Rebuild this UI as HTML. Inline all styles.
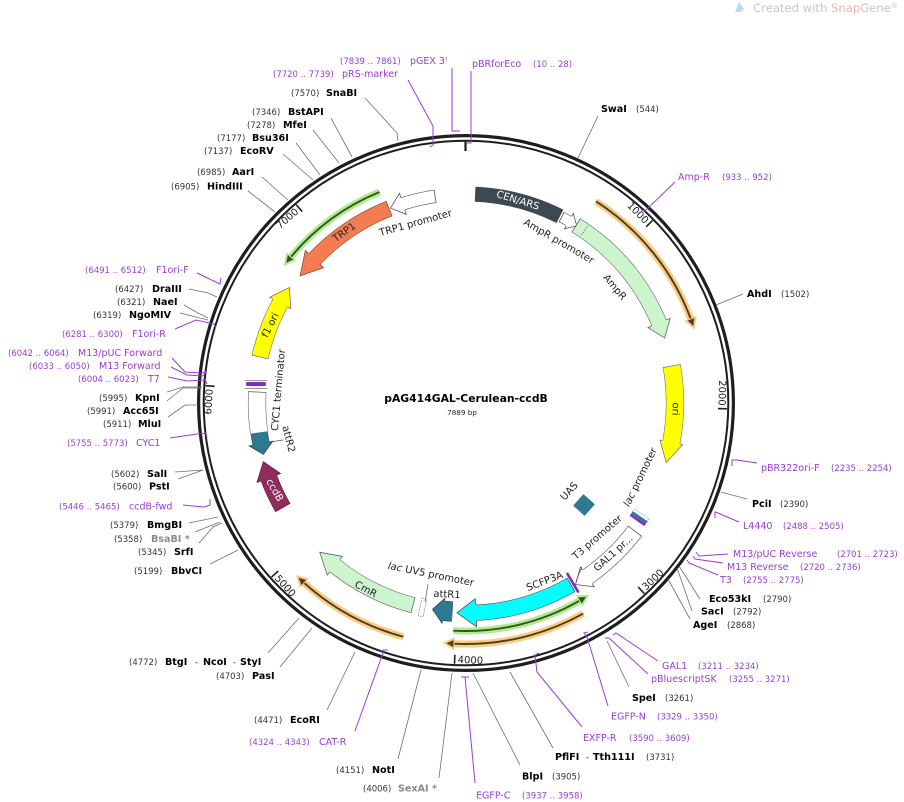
<!DOCTYPE html>
<html><head><meta charset="utf-8"><style>
html,body{margin:0;padding:0;background:#fff}
svg{display:block}
text{font-family:"DejaVu Sans","Liberation Sans",sans-serif}
.n{font-size:8.5px;fill:#333}
.e{font-size:9.6px;font-weight:bold;fill:#000}
.g{font-size:9.6px;font-weight:bold;fill:#8a8a8a}
.p{font-size:9.5px;fill:#9a3cd0}
.pn{font-size:8.5px;fill:#9a3cd0}
.t{font-size:10px;fill:#222}
.f text{font-size:10px;fill:#222;text-anchor:middle}
</style></head><body>
<svg width="904" height="802" viewBox="0 0 904 802" xmlns="http://www.w3.org/2000/svg">
<rect width="904" height="802" fill="#fff"/>

<!-- watermark -->
<path d="M735,12 L739,2 L744,9 L741,12 Z" fill="#b5def0"/>
<text x="753" y="12" font-size="11.5" fill="#c6c6c6" textLength="145" lengthAdjust="spacingAndGlyphs">Created with <tspan fill="#f2b3b3">Snap</tspan>Gene<tspan font-size="7" dy="-4">®</tspan></text>

<!-- ring -->
<circle cx="466" cy="403" r="267.4" fill="none" stroke="#1e1e1e" stroke-width="3.2"/>
<circle cx="466" cy="403" r="262.3" fill="none" stroke="#1e1e1e" stroke-width="2"/>
<line x1="465.5" y1="140" x2="465.5" y2="151" stroke="#1e1e1e" stroke-width="2.2"/>

<!-- ticks -->
<g stroke="#1e1e1e" stroke-width="1.6">
<g transform="translate(466 403) rotate(45.63)"><line x1="0" y1="-261" x2="0" y2="-252"/></g>
<g transform="translate(466 403) rotate(91.27)"><line x1="0" y1="-261" x2="0" y2="-252"/></g>
<g transform="translate(466 403) rotate(136.9)"><line x1="0" y1="-261" x2="0" y2="-252"/></g>
<g transform="translate(466 403) rotate(182.53)"><line x1="0" y1="-261" x2="0" y2="-252"/></g>
<g transform="translate(466 403) rotate(228.17)"><line x1="0" y1="-261" x2="0" y2="-252"/></g>
<g transform="translate(466 403) rotate(273.8)"><line x1="0" y1="-261" x2="0" y2="-252"/></g>
<g transform="translate(466 403) rotate(319.43)"><line x1="0" y1="-261" x2="0" y2="-252"/></g>
</g>
<g class="t">
<text transform="translate(466 403) rotate(45.63)" x="-3" y="-252.5" text-anchor="end">1000</text>
<text transform="translate(466 403) rotate(91.27)" x="-3" y="-252.5" text-anchor="end">2000</text>
<text transform="translate(466 403) rotate(-43.1)" x="3" y="260" text-anchor="start">3000</text>
<text transform="translate(466 403) rotate(2.53)" x="3" y="260" text-anchor="start">4000</text>
<text transform="translate(466 403) rotate(48.17)" x="3" y="260" text-anchor="start">5000</text>
<text transform="translate(466 403) rotate(273.8)" x="-3" y="-253.5" text-anchor="end">6000</text>
<text transform="translate(466 403) rotate(319.43)" x="-3" y="-253" text-anchor="end">7000</text>
</g>

<!-- ORF lines -->
<g fill="none">
<circle cx="466" cy="403" r="240" stroke="#f9cc82" stroke-width="7" stroke-dasharray="154.15 3000" transform="rotate(-57.2 466 403)"/>
<circle cx="466" cy="403" r="240" stroke="#4e3d22" stroke-width="1.9" stroke-dasharray="154.15 3000" transform="rotate(-57.2 466 403)"/>
<circle cx="466" cy="403" r="228" stroke="#b2e993" stroke-width="7" stroke-dasharray="132.11 3000" transform="rotate(60 466 403)"/>
<circle cx="466" cy="403" r="228" stroke="#2b5a1c" stroke-width="1.9" stroke-dasharray="132.11 3000" transform="rotate(60 466 403)"/>
<circle cx="466" cy="403" r="241" stroke="#f9cc82" stroke-width="7" stroke-dasharray="135.02 3000" transform="rotate(60.9 466 403)"/>
<circle cx="466" cy="403" r="241" stroke="#4e3d22" stroke-width="1.9" stroke-dasharray="135.02 3000" transform="rotate(60.9 466 403)"/>
<circle cx="466" cy="403" r="242" stroke="#f9cc82" stroke-width="7" stroke-dasharray="114.46 3000" transform="rotate(105 466 403)"/>
<circle cx="466" cy="403" r="242" stroke="#4e3d22" stroke-width="1.9" stroke-dasharray="114.46 3000" transform="rotate(105 466 403)"/>
<circle cx="466" cy="403" r="228" stroke="#b2e993" stroke-width="7" stroke-dasharray="111.42 3000" transform="rotate(219.7 466 403)"/>
<circle cx="466" cy="403" r="228" stroke="#2b5a1c" stroke-width="1.9" stroke-dasharray="111.42 3000" transform="rotate(219.7 466 403)"/>
</g>
<g transform="translate(466 403) rotate(69.6)"><polygon points="-1,-246.5 11,-239.7 -1,-233.5" fill="#f9cc82"/><polygon points="0,-243.5 7,-239.9 0,-236.5" fill="#4e3d22"/></g>
<g transform="translate(466 403) rotate(150)"><polygon points="1,-234.5 -11,-227.7 1,-221.5" fill="#b2e993"/><polygon points="0,-231.5 -7,-227.9 0,-224.5" fill="#2b5a1c"/></g>
<g transform="translate(466 403) rotate(183)"><polygon points="-1,-247.5 11,-240.7 -1,-234.5" fill="#f9cc82"/><polygon points="0,-244.5 7,-240.9 0,-237.5" fill="#4e3d22"/></g>
<g transform="translate(466 403) rotate(222.1)"><polygon points="-1,-248.5 11,-241.7 -1,-235.5" fill="#f9cc82"/><polygon points="0,-245.5 7,-241.9 0,-238.5" fill="#4e3d22"/></g>
<g transform="translate(466 403) rotate(309.7)"><polygon points="1,-234.5 -11,-227.7 1,-221.5" fill="#b2e993"/><polygon points="0,-231.5 -7,-227.9 0,-224.5" fill="#2b5a1c"/></g>

<!-- CEN/ARS -->
<circle cx="466" cy="403" r="209" fill="none" stroke="#3d4853" stroke-width="15" stroke-dasharray="88.3 3000" transform="rotate(-87.5 466 403)"/>

<!-- AmpR promoter -->
<circle cx="466" cy="403" r="209" fill="none" stroke="#555" stroke-width="11.2" stroke-dasharray="8.4 3000" transform="rotate(-62.8 466 403)"/>
<g transform="translate(466 403) rotate(29.5)"><polygon points="0,-218 9,-208.8 0,-200" fill="#fff"/><path d="M0,-214.6 V-218 L9,-208.8 L0,-200 V-203.4" fill="none" stroke="#555" stroke-width="0.8"/></g>
<circle cx="466" cy="403" r="209" fill="none" stroke="#fff" stroke-width="10" stroke-dasharray="9.4 3000" transform="rotate(-62.8 466 403)"/>
<g transform="translate(466 403) rotate(27.2)"><line x1="0" y1="-214.6" x2="0" y2="-203.4" stroke="#555" stroke-width="0.8"/></g>

<!-- AmpR -->
<circle cx="466" cy="403" r="209" fill="none" stroke="#666" stroke-width="16.2" stroke-dasharray="130.2 3000" transform="rotate(-58.2 466 403)"/>
<g transform="translate(466 403) rotate(67.5)"><polygon points="0,-221 16,-208.4 0,-197" fill="#cdf5cd"/><path d="M0,-217.1 V-221 L16,-208.4 L0,-197 V-200.9" fill="none" stroke="#666" stroke-width="0.8"/></g>
<circle cx="466" cy="403" r="209" fill="none" stroke="#cdf5cd" stroke-width="15" stroke-dasharray="131.2 3000" transform="rotate(-58.2 466 403)"/>
<g transform="translate(466 403) rotate(31.8)"><line x1="0" y1="-217.1" x2="0" y2="-200.9" stroke="#666" stroke-width="0.8"/></g>
<g transform="translate(466 403) rotate(34.5)"><line x1="0" y1="-215" x2="0" y2="-203" stroke="#333" stroke-width="0.8" stroke-dasharray="1 1.5"/></g>

<!-- ori -->
<circle cx="466" cy="403" r="209" fill="none" stroke="#777" stroke-width="18.2" stroke-dasharray="76.75 3000" transform="rotate(-10.2 466 403)"/>
<g transform="translate(466 403) rotate(100.84)"><polygon points="0,-220.5 21,-207.9 0,-197.5" fill="#ffff00"/><path d="M0,-218.1 V-220.5 L21,-207.9 L0,-197.5 V-199.9" fill="none" stroke="#777" stroke-width="0.8"/></g>
<circle cx="466" cy="403" r="209" fill="none" stroke="#ffff00" stroke-width="17" stroke-dasharray="77.75 3000" transform="rotate(-10.2 466 403)"/>
<g transform="translate(466 403) rotate(79.8)"><line x1="0" y1="-218.1" x2="0" y2="-199.9" stroke="#777" stroke-width="0.8"/></g>

<!-- lac promoter stack -->
<g transform="translate(639 518) rotate(35)">
<rect x="-9" y="-5" width="18" height="3" fill="#fff" stroke="#666" stroke-width="0.6" stroke-dasharray="1 1"/>
<rect x="-9" y="-2" width="18" height="3" fill="#2e7890"/>
<rect x="-9" y="1" width="18" height="2.6" fill="#7f2dc4"/>
</g>

<!-- UAS -->
<rect x="-7.7" y="-7.7" width="15.4" height="15.4" fill="#2e7890" transform="translate(584 505) rotate(42)"/>

<!-- T3 / GAL1 promoter -->
<circle cx="466" cy="403" r="212" fill="none" stroke="#555" stroke-width="17.2" stroke-dasharray="66.2 3000" transform="rotate(37.2 466 403)"/>
<g transform="translate(466 403) rotate(145.1)"><polygon points="0,-224 14,-211.5 0,-200" fill="#fff"/><path d="M0,-220.6 V-224 L14,-211.5 L0,-200 V-203.4" fill="none" stroke="#555" stroke-width="0.8"/></g>
<circle cx="466" cy="403" r="212" fill="none" stroke="#fff" stroke-width="16" stroke-dasharray="67.2 3000" transform="rotate(37.2 466 403)"/>
<g transform="translate(466 403) rotate(127.2)"><line x1="0" y1="-220.6" x2="0" y2="-203.4" stroke="#555" stroke-width="0.8"/></g>

<!-- SCFP3A -->
<circle cx="466" cy="403" r="210" fill="none" stroke="#555" stroke-width="16.2" stroke-dasharray="100.06 3000" transform="rotate(60 466 403)"/>
<g transform="translate(466 403) rotate(177.3)"><polygon points="0,-224 19,-209.1 0,-196" fill="#00ffff"/><path d="M0,-218.1 V-224 L19,-209.1 L0,-196 V-201.9" fill="none" stroke="#555" stroke-width="0.8"/></g>
<circle cx="466" cy="403" r="210" fill="none" stroke="#00ffff" stroke-width="15" stroke-dasharray="101.1 3000" transform="rotate(60 466 403)"/>
<g transform="translate(466 403) rotate(150)"><line x1="0" y1="-218.1" x2="0" y2="-201.9" stroke="#555" stroke-width="0.8"/></g>
<g transform="translate(466 403) rotate(149.3)"><rect x="-1.3" y="-220.5" width="2.6" height="23" rx="1" fill="#7f2dc4"/></g>

<!-- attR1 -->
<circle cx="466" cy="403" r="209" fill="none" stroke="#234f5e" stroke-width="20.2" stroke-dasharray="9.1 3000" transform="rotate(93.7 466 403)"/>
<g transform="translate(466 403) rotate(186.2)"><polygon points="0,-221.5 11,-208.7 0,-196.5" fill="#2e7890"/><path d="M0,-219.1 V-221.5 L11,-208.7 L0,-196.5 V-198.9" fill="none" stroke="#234f5e" stroke-width="0.8"/></g>
<circle cx="466" cy="403" r="209" fill="none" stroke="#2e7890" stroke-width="19" stroke-dasharray="10.1 3000" transform="rotate(93.7 466 403)"/>

<!-- lac UV5 promoter -->
<g transform="translate(466 403) rotate(192)"><rect x="-2.5" y="-218" width="5" height="18" fill="#fff" stroke="#555" stroke-width="0.6" stroke-dasharray="1.2 1"/></g>

<!-- CmR -->
<circle cx="466" cy="403" r="209" fill="none" stroke="#666" stroke-width="16.2" stroke-dasharray="88.27 3000" transform="rotate(104.7 466 403)"/>
<g transform="translate(466 403) rotate(218.9)"><polygon points="0,-221 20,-208 0,-197" fill="#cdf5cd"/><path d="M0,-217.1 V-221 L20,-208 L0,-197 V-200.9" fill="none" stroke="#666" stroke-width="0.8"/></g>
<circle cx="466" cy="403" r="209" fill="none" stroke="#cdf5cd" stroke-width="15" stroke-dasharray="89.3 3000" transform="rotate(104.7 466 403)"/>
<g transform="translate(466 403) rotate(194.7)"><line x1="0" y1="-217.1" x2="0" y2="-200.9" stroke="#666" stroke-width="0.8"/></g>

<!-- ccdB -->
<circle cx="466" cy="403" r="211" fill="none" stroke="#5e1a3b" stroke-width="17.2" stroke-dasharray="32.78 3000" transform="rotate(150.3 466 403)"/>
<g transform="translate(466 403) rotate(249.2)"><polygon points="0,-223.5 17,-210.3 0,-198.5" fill="#8f2d5d"/><path d="M0,-219.6 V-223.5 L17,-210.3 L0,-198.5 V-202.4" fill="none" stroke="#5e1a3b" stroke-width="0.8"/></g>
<circle cx="466" cy="403" r="211" fill="none" stroke="#8f2d5d" stroke-width="16" stroke-dasharray="33.8 3000" transform="rotate(150.3 466 403)"/>
<g transform="translate(466 403) rotate(240.3)"><line x1="0" y1="-219.6" x2="0" y2="-202.4" stroke="#5e1a3b" stroke-width="0.8"/></g>

<!-- attR2 -->
<circle cx="466" cy="403" r="209" fill="none" stroke="#234f5e" stroke-width="17.2" stroke-dasharray="11.31 3000" transform="rotate(168.8 466 403)"/>
<g transform="translate(466 403) rotate(258.8)"><polygon points="0,-221 -11,-208.7 0,-197" fill="#2e7890"/><path d="M0,-217.6 V-221 L-11,-208.7 L0,-197 V-200.4" fill="none" stroke="#234f5e" stroke-width="0.8"/></g>
<circle cx="466" cy="403" r="209" fill="none" stroke="#2e7890" stroke-width="16" stroke-dasharray="12.3 3000" transform="rotate(168.53 466 403)"/>

<!-- CYC1 terminator -->
<circle cx="466" cy="403" r="209" fill="none" stroke="#666" stroke-width="18.2" stroke-dasharray="40.5 3000" transform="rotate(171.9 466 403)"/>
<circle cx="466" cy="403" r="209" fill="none" stroke="#fff" stroke-width="17" stroke-dasharray="40.5 3000" transform="rotate(171.9 466 403)"/>
<g transform="translate(466 403) rotate(273)"><line x1="0" y1="-218.1" x2="0" y2="-199.9" stroke="#666" stroke-width="0.8"/></g>
<line x1="245" y1="380.5" x2="267" y2="380.5" stroke="#777" stroke-width="0.8"/>
<rect x="246" y="382" width="20" height="4" rx="1.5" fill="#7f2dc4"/>
<line x1="245" y1="388.5" x2="267" y2="388.5" stroke="#777" stroke-width="0.8"/>

<!-- f1 ori -->
<circle cx="466" cy="403" r="211" fill="none" stroke="#777" stroke-width="17.2" stroke-dasharray="57.82 3000" transform="rotate(192.6 466 403)"/>
<g transform="translate(466 403) rotate(298.3)"><polygon points="0,-223 18,-210.2 0,-199" fill="#ffff00"/><path d="M0,-219.6 V-223 L18,-210.2 L0,-199 V-202.4" fill="none" stroke="#777" stroke-width="0.8"/></g>
<circle cx="466" cy="403" r="211" fill="none" stroke="#ffff00" stroke-width="16" stroke-dasharray="58.8 3000" transform="rotate(192.6 466 403)"/>
<g transform="translate(466 403) rotate(282.6)"><line x1="0" y1="-219.6" x2="0" y2="-202.4" stroke="#777" stroke-width="0.8"/></g>

<!-- TRP1 -->
<circle cx="466" cy="403" r="209" fill="none" stroke="#8b4a30" stroke-width="16.2" stroke-dasharray="90.83 3000" transform="rotate(223.5 466 403)"/>
<g transform="translate(466 403) rotate(313.5)"><polygon points="0,-221.5 -22,-207.8 0,-196.5" fill="#f47c50"/><path d="M0,-217.1 V-221.5 L-22,-207.8 L0,-196.5 V-200.9" fill="none" stroke="#8b4a30" stroke-width="0.8"/></g>
<circle cx="466" cy="403" r="209" fill="none" stroke="#f47c50" stroke-width="15" stroke-dasharray="91.83 3000" transform="rotate(223.23 466 403)"/>
<g transform="translate(466 403) rotate(338.4)"><line x1="0" y1="-217.1" x2="0" y2="-200.9" stroke="#8b4a30" stroke-width="0.8"/></g>

<!-- TRP1 promoter -->
<circle cx="466" cy="403" r="209" fill="none" stroke="#555" stroke-width="13.2" stroke-dasharray="33.19 3000" transform="rotate(252.4 466 403)"/>
<g transform="translate(466 403) rotate(342.4)"><polygon points="0,-220 -13,-208.6 0,-198" fill="#fff"/><path d="M0,-215.6 V-220 L-13,-208.6 L0,-198 V-202.4" fill="none" stroke="#555" stroke-width="0.8"/></g>
<circle cx="466" cy="403" r="209" fill="none" stroke="#fff" stroke-width="12" stroke-dasharray="34.2 3000" transform="rotate(252.13 466 403)"/>
<g transform="translate(466 403) rotate(351.5)"><line x1="0" y1="-215.6" x2="0" y2="-202.4" stroke="#555" stroke-width="0.8"/></g>

<!-- feature labels -->
<g class="f">
<text transform="translate(415.5 222.5) rotate(-15.6)" dy=".35em">TRP1 promoter</text>
<text transform="translate(344 232) rotate(-35.5)" dy=".35em">TRP1</text>
<text transform="translate(270 325) rotate(-63)" dy=".35em">f1 ori</text>
<text transform="translate(278 390) rotate(-85)" dy=".35em">CYC1 terminator</text>
<text transform="translate(289 439) rotate(76)" dy=".35em">attR2</text>
<text transform="translate(275 490) rotate(60)" dy=".35em" style="fill:#fff">ccdB</text>
<text transform="translate(366 589) rotate(28)" dy=".35em">CmR</text>
<text transform="translate(431 574) rotate(11.5)" dy=".35em"><tspan font-style="italic">lac</tspan> UV5 promoter</text>
<text transform="translate(447 594) rotate(3)" dy=".35em">attR1</text>
<text transform="translate(544.5 581) rotate(-21)" dy=".35em">SCFP3A</text>
<text transform="translate(597 537) rotate(-41)" dy=".35em">T3 promoter</text>
<text transform="translate(613 553) rotate(-42)" dy=".35em">GAL1 pr...</text>
<text transform="translate(569 491) rotate(-48)" dy=".35em">UAS</text>
<text transform="translate(640 477) rotate(-64)" dy=".35em"><tspan font-style="italic">lac</tspan> promoter</text>
<text transform="translate(676 409) rotate(92)" dy=".35em">ori</text>
<text transform="translate(615 287) rotate(50)" dy=".35em">AmpR</text>
<text transform="translate(559 241) rotate(30)" dy=".35em">AmpR promoter</text>
<text transform="translate(518 200) rotate(17)" dy=".35em" style="fill:#fff">CEN/ARS</text>
</g>
<path d="M582,567 L576,581 M428,584 L425,602 M283,440 L270,442" fill="none" stroke="#555" stroke-width="0.7"/>

<!-- enzyme connector lines -->
<path fill="none" stroke="#6e6e6e" stroke-width="0.8" d="
M365,98 L397,133 L398,141
M331,118 L352,157
M313,130 L339,163
M296,143 L320,175
M283,154 L313,180
M262,177 L288,200
M248,191 L275,212
M598,116 L578,158
M743,294 L716,305
M747,499 L721,492
M700,599 L679,566
M692,611 L677,568
M690,619 L668,579
M629,687 L607,641
M553,748 L510,672
M520,765 L473,673
M439,778 L452,673
M398,759 L421,670
M327,710 L355,652
M280,667 L312,628
M268,653 L299,618
M210,564 L238,550
M199,543 L213,527 L222,523
M195,532 L220,522
M189,523 L218,517
M175,472 L203,470
M178,479 L203,470
M168,417 L185,405 L198,405
M167,401 L183,388 L200,388
M167,392 L183,387 L202,387
M184,305 L198,313 L208,318
M180,313 L208,320
M189,289 L208,293 L217,297"/>

<!-- primer lines & markers -->
<path fill="none" stroke="#9a3cd6" stroke-width="1" d="
M452,68 V131 H460
M408,80 L433,126 L433,145 L430,147
M471,71 V143 H467
M675,182 L645,211 L641,210
M757,463 L737,460 L732,460 L732,466
M739,522 L718,513 L715,512 L715,518
M728,554 L699,556 L696,552
M723,563 L695,559 L693,556
M718,575 L689,563 L687,560
M658,661 L616,633 L613,635
M648,674 L609,638 L605,638
M608,706 L587,637 L584,633 L588,632
M582,727 L537,672 L535,655 L539,653
M475,783 L465,677 M461,677 H469
M355,731 L383,653 L383,650 L388,650
M183,505 L204,507 L210,505 L210,499
M170,438 L197,434 L206,433 L207,438
M168,377 L187,381 L205,380 L207,384
M171,367 L187,375 L203,376 L206,372
M172,358 L185,372 L203,373 L207,370
M175,329 L196,320 L214,324 L216,328
M197,273 L220,284 L221,278"/>

<!-- labels top-left -->
<text class="pn" x="340" y="64">(7839 .. 7861)</text><text class="p" x="410" y="64">pGEX 3'</text>
<text class="pn" x="273" y="77">(7720 .. 7739)</text><text class="p" x="342" y="77">pRS-marker</text>
<text class="n" x="291" y="96">(7570)</text><text class="e" x="326" y="96">SnaBI</text>
<text class="n" x="252" y="115">(7346)</text><text class="e" x="288" y="115">BstAPI</text>
<text class="n" x="247" y="128">(7278)</text><text class="e" x="283" y="128">MfeI</text>
<text class="n" x="217" y="141">(7177)</text><text class="e" x="252" y="141">Bsu36I</text>
<text class="n" x="204" y="154">(7137)</text><text class="e" x="240" y="154">EcoRV</text>
<text class="n" x="197" y="175">(6985)</text><text class="e" x="232" y="175">AarI</text>
<text class="n" x="171" y="189.5">(6905)</text><text class="e" x="207" y="189.5">HindIII</text>

<!-- labels right -->
<text class="p" x="472" y="67">pBRforEco</text><text class="pn" x="533" y="67">(10 .. 28)</text>
<text class="e" x="601" y="112">SwaI</text><text class="n" x="636" y="112">(544)</text>
<text class="p" x="678" y="180">Amp-R</text><text class="pn" x="722" y="180">(933 .. 952)</text>
<text class="e" x="747" y="297">AhdI</text><text class="n" x="781" y="297">(1502)</text>
<text class="p" x="761" y="471">pBR322ori-F</text><text class="pn" x="831" y="471">(2235 .. 2254)</text>
<text class="e" x="752" y="507">PciI</text><text class="n" x="780" y="507">(2390)</text>
<text class="p" x="743" y="529">L4440</text><text class="pn" x="783" y="529">(2488 .. 2505)</text>
<text class="p" x="733" y="557">M13/pUC Reverse</text><text class="pn" x="837" y="557">(2701 .. 2723)</text>
<text class="p" x="727" y="570">M13 Reverse</text><text class="pn" x="800" y="570">(2720 .. 2736)</text>
<text class="p" x="720" y="583">T3</text><text class="pn" x="743" y="583">(2755 .. 2775)</text>
<text class="e" x="709" y="602">Eco53kI</text><text class="n" x="763" y="602">(2790)</text>
<text class="e" x="701" y="614.5">SacI</text><text class="n" x="733" y="614.5">(2792)</text>
<text class="e" x="693" y="628">AgeI</text><text class="n" x="727" y="628">(2868)</text>
<text class="p" x="662" y="669">GAL1</text><text class="pn" x="698" y="669">(3211 .. 3234)</text>
<text class="p" x="651" y="682">pBluescriptSK</text><text class="pn" x="729" y="682">(3255 .. 3271)</text>
<text class="e" x="632" y="701">SpeI</text><text class="n" x="665" y="701">(3261)</text>
<text class="p" x="611" y="719.5">EGFP-N</text><text class="pn" x="657" y="719.5">(3329 .. 3350)</text>
<text class="p" x="583" y="741">EXFP-R</text><text class="pn" x="629" y="741">(3590 .. 3609)</text>
<text class="e" x="555" y="760">PflFI</text><text class="n" x="586" y="760">-</text><text class="e" x="593" y="760">Tth111I</text><text class="n" x="646" y="760">(3731)</text>
<text class="e" x="522" y="779.5">BlpI</text><text class="n" x="552" y="779.5">(3905)</text>
<text class="p" x="476" y="798.5">EGFP-C</text><text class="pn" x="522" y="798.5">(3937 .. 3958)</text>

<!-- labels bottom-left / left -->
<text class="n" x="363" y="791.5">(4006)</text><text class="g" x="398" y="791.5">SexAI *</text>
<text class="n" x="336" y="773">(4151)</text><text class="e" x="372" y="773">NotI</text>
<text class="pn" x="249" y="745">(4324 .. 4343)</text><text class="p" x="319" y="745">CAT-R</text>
<text class="n" x="254" y="723">(4471)</text><text class="e" x="290" y="723">EcoRI</text>
<text class="n" x="216" y="679">(4703)</text><text class="e" x="252" y="679">PasI</text>
<text class="n" x="129" y="665">(4772)</text><text class="e" x="165" y="665">BtgI</text><text class="n" x="195" y="665">-</text><text class="e" x="203" y="665">NcoI</text><text class="n" x="233" y="665">-</text><text class="e" x="240" y="665">StyI</text>
<text class="n" x="134" y="574">(5199)</text><text class="e" x="171" y="574">BbvCI</text>
<text class="n" x="138" y="555">(5345)</text><text class="e" x="174" y="555">SrfI</text>
<text class="n" x="114" y="542">(5358)</text><text class="g" x="151" y="542">BsaBI *</text>
<text class="n" x="110" y="528">(5379)</text><text class="e" x="147" y="528">BmgBI</text>
<text class="pn" x="59" y="509.5">(5446 .. 5465)</text><text class="p" x="129" y="509.5">ccdB-fwd</text>
<text class="n" x="113" y="489.5">(5600)</text><text class="e" x="149" y="489.5">PstI</text>
<text class="n" x="111" y="477">(5602)</text><text class="e" x="147" y="477">SalI</text>
<text class="pn" x="67" y="446">(5755 .. 5773)</text><text class="p" x="136" y="446">CYC1</text>
<text class="n" x="103" y="427">(5911)</text><text class="e" x="138" y="427">MluI</text>
<text class="n" x="87" y="414">(5991)</text><text class="e" x="123" y="414">Acc65I</text>
<text class="n" x="99" y="401">(5995)</text><text class="e" x="135" y="401">KpnI</text>
<text class="pn" x="78" y="382">(6004 .. 6023)</text><text class="p" x="148" y="382">T7</text>
<text class="pn" x="29" y="369">(6033 .. 6050)</text><text class="p" x="99" y="369">M13 Forward</text>
<text class="pn" x="8" y="356">(6042 .. 6064)</text><text class="p" x="78" y="356">M13/pUC Forward</text>
<text class="pn" x="62" y="337">(6281 .. 6300)</text><text class="p" x="132" y="337">F1ori-R</text>
<text class="n" x="93" y="318">(6319)</text><text class="e" x="129" y="318">NgoMIV</text>
<text class="n" x="117" y="305">(6321)</text><text class="e" x="153" y="305">NaeI</text>
<text class="n" x="115" y="292">(6427)</text><text class="e" x="152" y="292">DraIII</text>
<text class="pn" x="85" y="273">(6491 .. 6512)</text><text class="p" x="156" y="273">F1ori-F</text>

<!-- title -->
<text x="466" y="402" text-anchor="middle" font-size="10.8" font-weight="bold" fill="#000">pAG414GAL-Cerulean-ccdB</text>
<text x="462" y="415" text-anchor="middle" font-size="7.2" fill="#222">7889 bp</text>
</svg>
</body></html>
